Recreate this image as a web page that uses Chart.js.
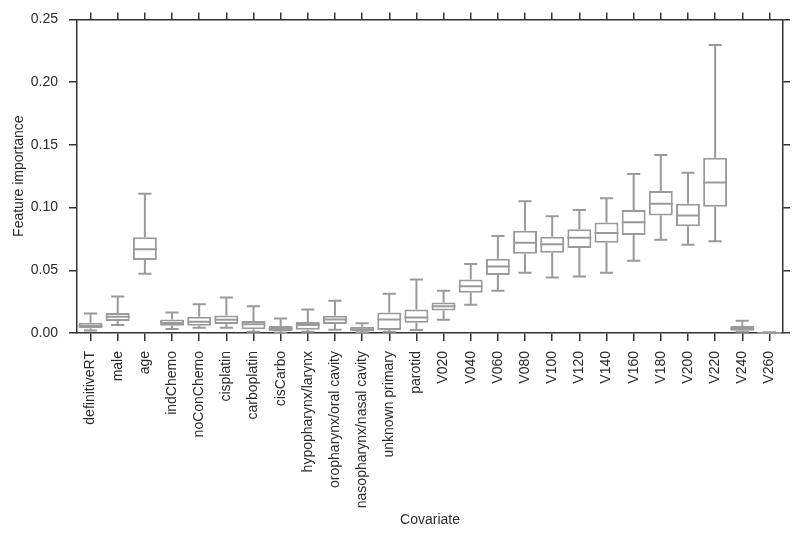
<!DOCTYPE html>
<html>
<head>
<meta charset="utf-8">
<script src="https://cdn.jsdelivr.net/npm/chart.js@4/dist/chart.umd.min.js"></script>
<style>
  html, body { margin: 0; padding: 0; background: #fff; }
  #wrap { width: 800px; height: 536px; }
</style>
</head>
<body>
<div id="wrap"><canvas id="boxChart" width="800" height="536"></canvas></div>
<script>
const covariates = ['definitiveRT', 'male', 'age', 'indChemo', 'noConChemo', 'cisplatin', 'carboplatin', 'cisCarbo',
    'hypopharynx/larynx', 'oropharynx/oral cavity', 'nasopharynx/nasal cavity', 'unknown primary', 'parotid',
    'V020', 'V040', 'V060', 'V080', 'V100', 'V120', 'V140', 'V160', 'V180', 'V200', 'V220', 'V240', 'V260'];

const whiskerLow  = [0.0020, 0.0063, 0.0473, 0.0032, 0.0042, 0.0042, 0.0010, 0.0003, 0.0010, 0.0026, 0.0005, 0.0010, 0.0024,
                     0.0105, 0.0226, 0.0337, 0.0481, 0.0442, 0.0450, 0.0481, 0.0576, 0.0744, 0.0704, 0.0731, 0.0010, 0.0000];
const quart1      = [0.0037, 0.0095, 0.0581, 0.0058, 0.0058, 0.0071, 0.0029, 0.0016, 0.0026, 0.0071, 0.0016, 0.0024, 0.0081,
                     0.0179, 0.0321, 0.0463, 0.0631, 0.0639, 0.0678, 0.0720, 0.0781, 0.0936, 0.0852, 0.1007, 0.0018, 0.0000];
const medians     = [0.0055, 0.0129, 0.0668, 0.0080, 0.0089, 0.0105, 0.0069, 0.0034, 0.0063, 0.0108, 0.0030, 0.0108, 0.0124,
                     0.0213, 0.0373, 0.0531, 0.0720, 0.0707, 0.0760, 0.0797, 0.0883, 0.1031, 0.0936, 0.1199, 0.0035, 0.0000];
const quart3      = [0.0081, 0.0160, 0.0763, 0.0108, 0.0129, 0.0139, 0.0095, 0.0055, 0.0087, 0.0137, 0.0050, 0.0163, 0.0187,
                     0.0244, 0.0426, 0.0591, 0.0815, 0.0768, 0.0828, 0.0881, 0.0980, 0.1133, 0.1031, 0.1398, 0.0055, 0.0002];
const whiskerHigh = [0.0155, 0.0290, 0.1110, 0.0163, 0.0229, 0.0284, 0.0213, 0.0116, 0.0187, 0.0258, 0.0077, 0.0313, 0.0426,
                     0.0337, 0.0550, 0.0773, 0.1051, 0.0931, 0.0980, 0.1075, 0.1267, 0.1420, 0.1278, 0.2295, 0.0097, 0.0005];

const yTicks = [0, 0.05, 0.10, 0.15, 0.20, 0.25];

const boxColor = '#9a9a9a';
const axisColor = '#333';
const textColor = '#2b2b2b';
const fontFamily = '"Liberation Sans", Arial, sans-serif';

// whiskers, caps and medians drawn on top of the floating bars
const whiskerPlugin = {
    id: 'whiskers',
    afterDatasetsDraw(chart) {
        const ctx = chart.ctx;
        const x = chart.scales.x;
        const y = chart.scales.y;
        const meta = chart.getDatasetMeta(0);
        ctx.save();
        ctx.strokeStyle = boxColor;
        ctx.lineWidth = 2;
        covariates.forEach((c, i) => {
            const cx = x.getPixelForValue(i);
            const half = meta.data[i].width / 2;
            const cap = half * 0.55;
            ctx.beginPath();
            // upper whisker
            ctx.moveTo(cx, y.getPixelForValue(quart3[i]));
            ctx.lineTo(cx, y.getPixelForValue(whiskerHigh[i]));
            ctx.moveTo(cx - cap, y.getPixelForValue(whiskerHigh[i]));
            ctx.lineTo(cx + cap, y.getPixelForValue(whiskerHigh[i]));
            // lower whisker
            ctx.moveTo(cx, y.getPixelForValue(quart1[i]));
            ctx.lineTo(cx, y.getPixelForValue(whiskerLow[i]));
            ctx.moveTo(cx - cap, y.getPixelForValue(whiskerLow[i]));
            ctx.lineTo(cx + cap, y.getPixelForValue(whiskerLow[i]));
            // median
            ctx.moveTo(cx - half, y.getPixelForValue(medians[i]));
            ctx.lineTo(cx + half, y.getPixelForValue(medians[i]));
            ctx.stroke();
        });
        ctx.restore();
    }
};

const gridOpts = {
    drawOnChartArea: false,
    color: axisColor,
    lineWidth: 1.5,
    tickLength: 8,
    offset: false
};

new Chart(document.getElementById('boxChart').getContext('2d'), {
    type: 'bar',
    data: {
        labels: covariates,
        datasets: [{
            data: covariates.map((c, i) => [quart1[i], quart3[i]]),
            backgroundColor: '#fff',
            borderColor: boxColor,
            borderWidth: 2,
            borderSkipped: false,
            barPercentage: 0.88,
            categoryPercentage: 1.0
        }]
    },
    options: {
        responsive: false,
        animation: false,
        layout: { padding: { left: 7, right: 10, top: 5, bottom: 3 } },
        plugins: {
            legend: { display: false },
            tooltip: { enabled: false }
        },
        scales: {
            x: {
                type: 'category',
                position: 'bottom',
                offset: true,
                grid: gridOpts,
                border: { color: axisColor, width: 1.5 },
                afterFit: axis => { axis.height = 200; },
                ticks: {
                    autoSkip: false,
                    maxRotation: 90,
                    minRotation: 90,
                    padding: 10,
                    color: textColor,
                    font: { family: fontFamily, size: 14 }
                },
                title: {
                    display: true,
                    text: 'Covariate',
                    color: textColor,
                    font: { family: fontFamily, size: 14 }
                }
            },
            x2: {
                type: 'category',
                position: 'top',
                offset: true,
                grid: Object.assign({}, gridOpts, { tickLength: 7 }),
                border: { color: axisColor, width: 1.5 },
                ticks: { display: false }
            },
            y: {
                type: 'linear',
                position: 'left',
                min: 0,
                max: 0.25,
                afterBuildTicks: axis => { axis.ticks = yTicks.map(v => ({ value: v })); },
                afterFit: axis => { axis.width = 70; },
                grid: gridOpts,
                border: { color: axisColor, width: 1.5 },
                ticks: {
                    padding: 11,
                    color: textColor,
                    font: { family: fontFamily, size: 14 },
                    callback: v => Number(v).toFixed(2)
                },
                title: {
                    display: true,
                    text: 'Feature importance',
                    color: textColor,
                    font: { family: fontFamily, size: 14 }
                }
            },
            y2: {
                type: 'linear',
                position: 'right',
                min: 0,
                max: 0.25,
                afterBuildTicks: axis => { axis.ticks = yTicks.map(v => ({ value: v })); },
                grid: Object.assign({}, gridOpts, { tickLength: 7 }),
                border: { color: axisColor, width: 1.5 },
                ticks: { display: false }
            }
        }
    },
    plugins: [whiskerPlugin]
});
</script>
</body>
</html>
